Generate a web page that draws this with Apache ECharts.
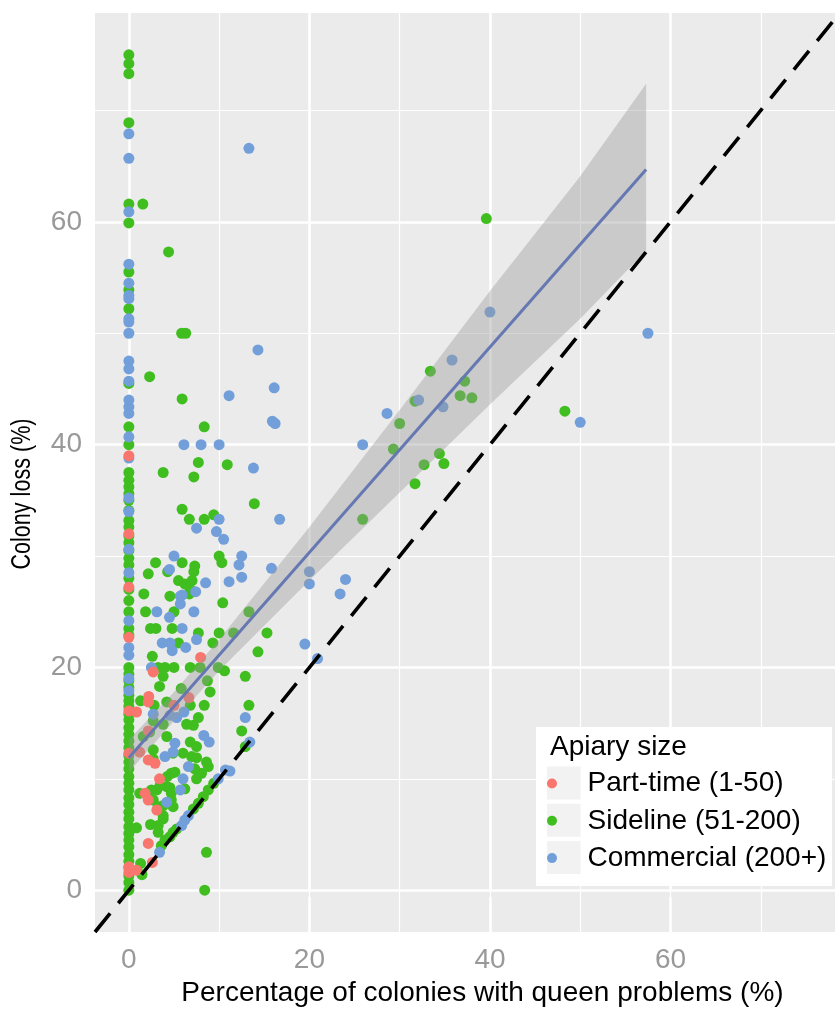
<!DOCTYPE html>
<html>
<head>
<meta charset="utf-8">
<script src="https://cdn.jsdelivr.net/npm/echarts@6/dist/echarts.min.js"></script>
<style>
  html, body { margin: 0; padding: 0; background: #fff; }
  #chart { width: 835px; height: 1010px; }
</style>
</head>
<body>
<div id="chart"></div>
<script>
// axis limits and ticks
const axisMin = -3.75;
const xMax = 82.1;
const yMax = 78.75;
const majorTicks = [0, 20, 40, 60];
const minorTicks = [10, 30, 50, 70];

const seriesNames = ["Part-time (1-50)", "Sideline (51-200)", "Commercial (200+)"];

// points sitting on x = 0 (colony loss only)
const partTimeZero = [39.0, 32.0, 27.2, 22.7, 16.1, 12.3, 2.1, 1.6];
const sidelineZero = [75.0, 74.2, 73.3, 68.9, 61.6, 59.9, 55.5, 53.9, 52.2, 45.5, 41.6, 40.0,
  37.5, 36.8, 36.2, 35.6, 35.0, 34.1, 33.2, 32.6, 31.8, 31.2, 30.5, 29.8, 29.2, 28.0, 27.0,
  26.0, 25.0, 23.5, 22.9, 20.0, 19.4, 18.8, 18.2, 17.5, 17.0, 16.5, 15.8, 15.3, 14.6, 14.0,
  13.4, 12.8, 12.1, 11.5, 10.9, 10.2, 9.6, 9.0, 8.3, 7.7, 7.0, 6.4, 5.7, 5.1, 4.5, 3.9,
  3.2, 2.6, 2.0, 1.3, 0.7, 0.0];
const commercialZero = [67.9, 65.7, 60.9, 56.2, 54.5, 53.4, 53.1, 51.3, 51.0, 50.0, 47.5,
  46.8, 45.7, 44.0, 43.4, 42.8, 40.7, 38.8, 35.2, 34.0, 30.6, 28.5, 24.2, 21.8, 21.1, 19.0,
  17.9];

// other points: [queen problems %, colony loss %]
const partTimePts = [[7.95, 20.9], [2.7, 19.6], [6.65, 17.3], [2.2, 17.4], [2.15, 16.9],
  [5.0, 16.6], [0.85, 16.0], [2.15, 14.3], [1.2, 12.4], [2.15, 11.7], [2.9, 11.4], [3.4, 10.0],
  [1.8, 8.7], [2.15, 8.1], [3.1, 7.2], [2.15, 4.2], [2.6, 2.5], [0.85, 1.8]];

const sidelinePts = [[1.55, 61.6], [4.4, 57.3], [5.85, 50.0], [6.3, 50.0], [2.3, 46.1],
  [5.9, 44.1], [8.35, 41.6], [7.7, 38.4], [10.9, 38.2], [3.8, 37.5], [7.2, 37.1], [13.9, 34.7],
  [5.9, 34.2], [6.7, 33.3], [8.35, 33.3], [9.4, 33.7], [10.0, 30.0], [10.3, 29.4], [2.96, 29.4],
  [5.9, 29.4], [7.3, 29.1], [7.2, 28.6], [7.0, 27.8], [4.3, 28.6], [2.15, 28.4], [5.5, 27.8],
  [6.2, 27.5], [6.8, 27.0], [1.66, 26.6], [4.55, 26.4], [6.7, 26.6], [10.4, 25.8], [13.3, 25.0],
  [1.85, 25.0], [5.0, 25.0], [2.4, 23.5], [3.0, 23.5], [4.8, 23.5], [7.7, 23.1], [10.0, 23.1],
  [11.6, 23.1], [9.3, 22.2], [5.5, 22.2], [2.6, 21.0], [14.3, 21.4], [15.3, 23.1], [3.25, 20.0],
  [4.0, 20.0], [5.0, 20.0], [6.8, 20.0], [7.9, 20.0], [9.9, 20.0], [10.6, 19.7], [12.9, 19.2],
  [3.8, 19.2], [3.4, 18.3], [8.7, 18.8], [9.0, 17.8], [5.8, 18.1], [1.3, 17.0], [2.8, 16.6],
  [4.2, 16.9], [6.8, 16.6], [8.35, 16.6], [13.3, 16.6], [7.7, 15.5], [2.7, 15.2], [7.15, 14.8],
  [6.4, 14.9], [3.8, 14.9], [1.6, 13.8], [2.3, 14.2], [4.2, 13.8], [6.8, 13.3], [7.5, 12.9],
  [2.7, 12.6], [2.7, 11.8], [4.9, 12.3], [6.0, 12.3], [6.95, 12.0], [7.5, 11.9], [8.6, 11.5],
  [8.8, 11.1], [7.3, 10.9], [8.05, 10.5], [7.5, 10.0], [4.7, 10.5], [5.1, 10.6], [4.25, 10.2],
  [3.45, 9.4], [4.2, 9.3], [3.1, 9.0], [2.5, 9.0], [1.2, 8.7], [4.55, 9.2], [4.7, 8.7],
  [6.2, 9.1], [2.7, 8.1], [3.25, 7.5], [3.8, 7.6], [4.7, 8.1], [4.9, 7.5], [9.4, 9.6],
  [8.8, 9.0], [8.25, 8.4], [7.7, 7.8], [7.15, 7.3], [5.3, 5.5], [4.9, 5.2], [4.55, 4.8],
  [4.0, 4.5], [3.6, 4.0], [3.8, 6.7], [3.8, 6.4], [3.25, 5.8], [3.25, 5.2], [2.4, 5.9],
  [0.85, 5.6], [1.3, 2.4], [1.45, 1.4], [8.6, 3.4], [8.4, 0.0], [12.5, 14.3], [12.9, 12.9],
  [25.9, 33.3], [29.3, 39.6], [30.0, 41.9], [33.4, 46.6], [37.2, 45.7], [36.7, 44.4],
  [38.0, 44.2], [31.7, 43.9], [34.4, 39.2], [34.9, 38.3], [32.7, 38.2], [31.7, 36.5],
  [39.6, 60.3], [48.3, 43.0]];

const commercialPts = [[13.3, 66.6], [14.3, 48.5], [16.1, 45.1], [11.1, 44.4], [15.9, 42.1],
  [16.2, 41.9], [6.1, 40.0], [8.0, 40.0], [10.0, 40.0], [13.8, 37.9], [10.0, 33.3], [7.5, 32.5],
  [9.7, 32.2], [10.5, 31.5], [16.7, 33.3], [12.5, 30.0], [12.2, 29.2], [12.5, 28.1], [15.8, 28.9],
  [5.0, 30.0], [4.5, 28.8], [8.5, 27.6], [11.1, 27.7], [5.9, 26.5], [7.4, 26.8], [5.7, 25.7],
  [5.7, 26.4], [3.1, 25.0], [7.2, 25.0], [4.5, 24.5], [5.9, 23.5], [7.5, 22.5], [3.7, 22.2],
  [4.55, 22.2], [4.8, 21.5], [6.3, 21.8], [2.5, 20.0], [2.7, 15.8], [4.55, 15.7], [6.1, 16.0],
  [12.9, 15.5], [5.3, 15.5], [5.1, 13.2], [8.3, 13.9], [8.9, 13.3], [4.9, 12.4], [4.0, 12.0],
  [6.6, 11.1], [6.0, 10.0], [5.7, 9.0], [4.2, 7.9], [10.7, 10.8], [9.9, 10.0], [6.6, 6.7],
  [6.2, 6.3], [5.85, 5.8], [3.4, 3.4], [13.4, 13.3], [11.2, 10.7], [19.5, 22.1], [20.9, 20.8],
  [20.0, 28.6], [20.0, 27.5], [24.0, 27.9], [23.4, 26.6], [25.9, 40.0], [28.6, 42.8],
  [35.8, 47.6], [32.1, 44.0], [34.8, 43.4], [40.0, 51.9], [50.0, 42.0], [57.5, 50.0]];

// linear fit and its confidence band
const fitX = [0, 57.3];
const fitY = [11.9, 64.7];
const bandX = [0, 5, 10, 20, 30, 40, 50, 57.3];
const bandLow = [10.6, 15.2, 19.7, 27.8, 35.7, 43.6, 51.3, 57.4];
const bandHigh = [13.5, 17.8, 22.5, 32.6, 43.1, 53.8, 64.1, 72.4];

// y = x reference line ends
const refX = [-3.75, 90];

const colors = ["#F8766D", "#40BE20", "#729FD9"];
const font = "Liberation Sans, Arial, Helvetica, sans-serif";

const chart = echarts.init(document.getElementById("chart"), null, { renderer: "canvas" });

const gridLines = [];
majorTicks.forEach(v => {
  gridLines.push({ xAxis: v, lineStyle: { width: 2.6 } });
  gridLines.push({ yAxis: v, lineStyle: { width: 2.6 } });
});
minorTicks.concat([80]).forEach(v => {
  gridLines.push({ xAxis: v, lineStyle: { width: 1.2 } });
});
minorTicks.forEach(v => {
  gridLines.push({ yAxis: v, lineStyle: { width: 1.2 } });
});

function scatterSeries(i, zeroVals, pts) {
  return {
    name: seriesNames[i],
    type: "scatter",
    symbol: "circle",
    symbolSize: 11,
    z: 2,
    itemStyle: { color: colors[i], opacity: 1 },
    data: zeroVals.map(y => [0, y]).concat(pts),
  };
}

const option = {
  animation: false,
  backgroundColor: "#ffffff",
  grid: {
    left: 95, top: 13, right: -35, bottom: 78,
    outerBoundsMode: "none",
    containLabel: false,
    show: true, backgroundColor: "#EBEBEB", borderWidth: 0,
  },
  xAxis: {
    type: "value",
    min: axisMin,
    max: xMax,
    name: "Percentage of colonies with queen problems (%)",
    nameLocation: "middle",
    nameGap: 47,
    nameTextStyle: { fontFamily: font, fontSize: 28, color: "#000" },
    axisLine: { show: false },
    axisTick: { show: true, customValues: majorTicks, length: 7, lineStyle: { color: "#999", width: 2.6 } },
    axisLabel: { customValues: majorTicks, fontFamily: font, fontSize: 28, color: "#999", margin: 14 },
    splitLine: { show: false },
  },
  yAxis: {
    type: "value",
    min: axisMin,
    max: yMax,
    axisLine: { show: false },
    axisTick: { show: true, customValues: majorTicks, length: 7, lineStyle: { color: "#999", width: 2.6 } },
    axisLabel: { customValues: majorTicks, fontFamily: font, fontSize: 28, color: "#999", margin: 13 },
    splitLine: { show: false },
  },
  legend: {
    data: seriesNames,
    orient: "vertical",
    left: 547,
    top: 767,
    padding: 0,
    itemWidth: 33,
    itemHeight: 10,
    itemGap: 4.3,
    icon: "circle",
    z: 8,
    selectedMode: false,
    textStyle: { fontFamily: font, fontSize: 28, color: "#000", lineHeight: 33, height: 33, padding: [0, 0, 0, 14] },
  },
  graphic: [
    // y axis title, drawn narrow like the reference
    {
      type: "text", z: 8, silent: true, x: 22, y: 494, rotation: Math.PI / 2, scaleX: 0.77,
      style: { text: "Colony loss (%)", font: "28px " + font, fill: "#000", align: "center", verticalAlign: "middle" },
    },
    { type: "rect", z: 6, silent: true, shape: { x: 536, y: 727, width: 296, height: 159 }, style: { fill: "#fff" } },
    { type: "rect", z: 7, silent: true, shape: { x: 547, y: 766.5, width: 33.5, height: 33 }, style: { fill: "#F2F2F2" } },
    { type: "rect", z: 7, silent: true, shape: { x: 547, y: 803.8, width: 33.5, height: 33 }, style: { fill: "#F2F2F2" } },
    { type: "rect", z: 7, silent: true, shape: { x: 547, y: 841.1, width: 33.5, height: 33 }, style: { fill: "#F2F2F2" } },
    { type: "text", z: 8, silent: true, style: { x: 550, y: 747, text: "Apiary size", font: "28px " + font, fill: "#000", verticalAlign: "middle" } },
  ],
  series: [
    {
      name: "grid lines",
      type: "line",
      data: [],
      silent: true,
      markLine: {
        z: 1,
        silent: true,
        symbol: ["none", "none"],
        label: { show: false },
        emphasis: { disabled: true },
        lineStyle: { color: "#ffffff", type: "solid" },
        data: gridLines,
      },
    },
    scatterSeries(1, sidelineZero, sidelinePts),
    scatterSeries(2, commercialZero, commercialPts),
    scatterSeries(0, partTimeZero, partTimePts),
    {
      name: "band",
      type: "custom",
      z: 3,
      silent: true,
      data: bandX.map((x, i) => [x, bandLow[i], bandHigh[i]]),
      encode: { x: 0, y: [1, 2] },
      renderItem: (params, api) => {
        if (params.dataIndex !== 0) return;
        const upper = bandX.map((x, i) => api.coord([x, bandHigh[i]]));
        const lower = bandX.map((x, i) => api.coord([x, bandLow[i]])).reverse();
        return {
          type: "polygon",
          shape: { points: upper.concat(lower) },
          style: { fill: "rgba(153,153,153,0.4)" },
        };
      },
    },
    {
      name: "fit",
      type: "line",
      z: 4,
      silent: true,
      showSymbol: false,
      data: fitX.map((x, i) => [x, fitY[i]]),
      lineStyle: { color: "#6678B2", width: 3 },
    },
    {
      name: "y = x",
      type: "line",
      z: 5,
      silent: true,
      showSymbol: false,
      data: refX.map(v => [v, v]),
      lineStyle: { color: "#000", width: 3.6, type: [24, 13], cap: "butt" },
    },
  ],
};

chart.setOption(option);
</script>
</body>
</html>
